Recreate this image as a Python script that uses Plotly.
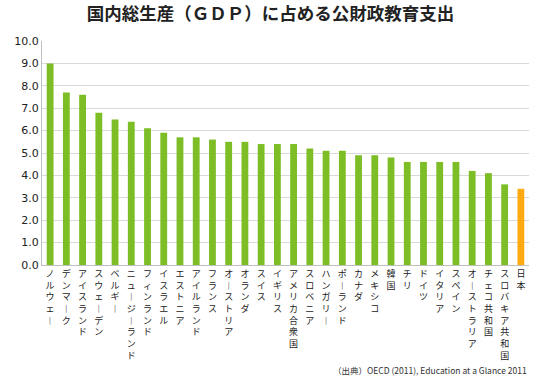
import plotly.graph_objects as go

countries = ["ノルウェー", "デンマーク", "アイスランド", "スウェーデン", "ベルギー",
             "ニュージーランド", "フィンランド", "イスラエル", "エストニア", "アイルランド",
             "フランス", "オーストリア", "オランダ", "スイス", "イギリス",
             "アメリカ合衆国", "スロベニア", "ハンガリー", "ポーランド", "カナダ",
             "メキシコ", "韓国", "チリ", "ドイツ", "イタリア",
             "スペイン", "オーストラリア", "チェコ共和国", "スロバキア共和国", "日本"]
values = [9.0, 7.7, 7.6, 6.8, 6.5, 6.4, 6.1, 5.9, 5.7, 5.7,
          5.6, 5.5, 5.5, 5.4, 5.4, 5.4, 5.2, 5.1, 5.1, 4.9,
          4.9, 4.8, 4.6, 4.6, 4.6, 4.6, 4.2, 4.1, 3.6, 3.4]
highlight = "日本"
ytick_vals = [0, 1, 2, 3, 4, 5, 6, 7, 8, 9, 10]

GREEN = "#7DBE26"
ORANGE = "#FFAA11"

def vertical(s):
    return "<br>".join("︱" if ch == "ー" else ch for ch in s)

colors = [ORANGE if c == highlight else GREEN for c in countries]

fig = go.Figure(go.Bar(
    x=countries, y=values, marker=dict(color=colors, line=dict(width=0)),
    hoverinfo="skip",
))

fig.update_layout(
    width=550, height=376,
    margin=dict(l=42, r=21, t=41, b=111),
    paper_bgcolor="white", plot_bgcolor="white",
    bargap=0.58,
    showlegend=False,
    font=dict(family="Noto Sans CJK JP", color="#333333"),
    title=dict(text="<b>国内総生産（ＧＤＰ）に占める公財政教育支出</b>",
               x=0.492, xanchor="center", y=0.962, yanchor="middle",
               font=dict(size=17.5, color="#222222", family="Noto Sans CJK JP")),
    annotations=[dict(text="（出典）OECD (2011), Education at a Glance 2011",
                      xref="paper", yref="paper", x=1.0, y=-0.468,
                      xanchor="right", yanchor="middle", showarrow=False,
                      font=dict(size=8.5, color="#333333"))],
)

fig.update_xaxes(
    tickmode="array", tickvals=countries, ticktext=[vertical(c) for c in countries],
    tickangle=0, tickfont=dict(size=9, color="#222222"),
    showline=True, linecolor="#BFBFBF", linewidth=1,
    ticks="", showgrid=False,
)
fig.update_yaxes(
    range=[0, 10], tickvals=ytick_vals, ticktext=[f"{v:.1f}" for v in ytick_vals],
    tickfont=dict(size=11, color="#222222", family="Verdana, DejaVu Sans"),
    showgrid=True, gridcolor="#D9D9D9", gridwidth=1,
    showline=True, linecolor="#BFBFBF", linewidth=1,
    zeroline=False, ticks="", ticklen=0,
)

fig.write_html("out.html", config={"displayModeBar": False},
               post_script="document.body.style.margin='0';document.body.style.overflow='hidden';")
